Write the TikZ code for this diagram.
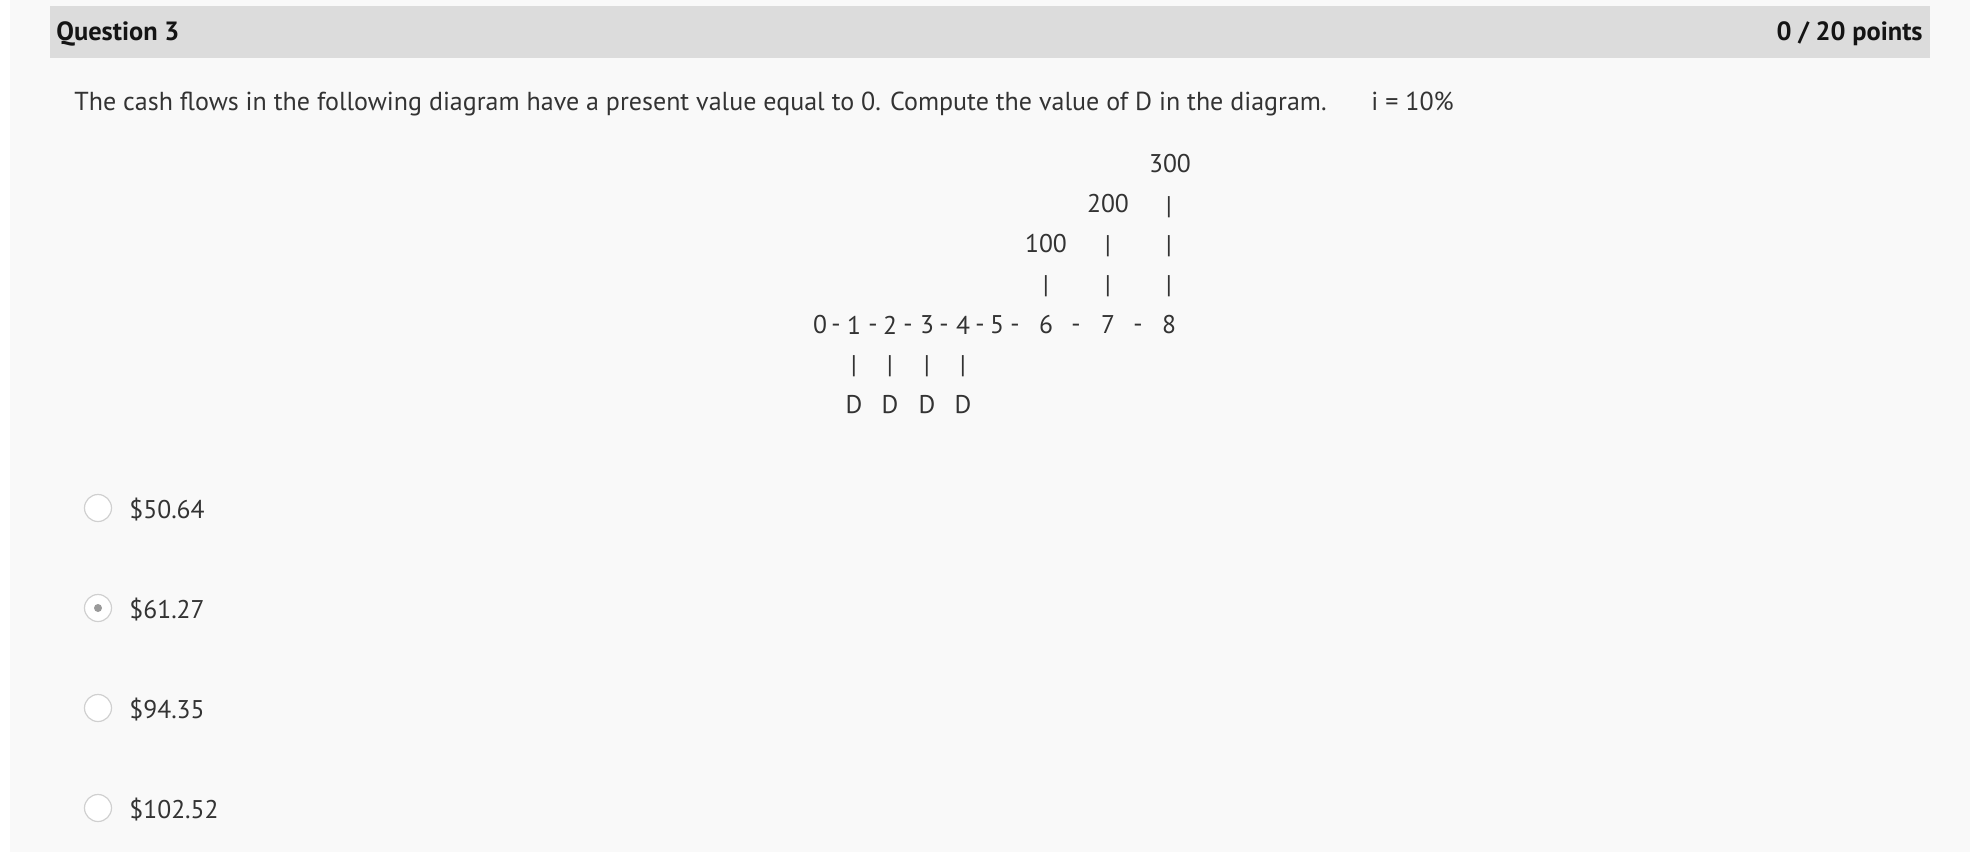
\documentclass[tikz,border=0pt]{standalone}
\usepackage{fontspec}
\setmainfont{PT Sans}
\definecolor{panelgray}{HTML}{F9F9F9}
\definecolor{bargray}{HTML}{DCDCDC}
\definecolor{inkgray}{HTML}{333333}
\definecolor{radioedge}{HTML}{D0D0D0}
\definecolor{radiodot}{HTML}{9A9A9A}
\tikzset{
	txt/.style={text=inkgray, inner sep=0pt, font=\fontsize{12.8}{15}\selectfont},
	bigtxt/.style={txt, font=\fontsize{13}{15}\selectfont},
	headtxt/.style={text=black!92, inner sep=0pt, font=\fontsize{13.2}{16}\selectfont\bfseries},
	radio/.style={circle, draw=radioedge, fill=white, line width=0.6pt, minimum size=13.5pt, inner sep=0pt},
}

\begin{document}
\begin{tikzpicture}[x=0.5pt, y=-0.5pt]
			%%%%% START %%%%%
			\useasboundingbox (0, 0) rectangle (1988, 852);
			\fill[white] (0, 0) rectangle (1988, 852);
			\fill[panelgray] (10, 0) rectangle (1970, 852);
			\fill[bargray] (50, 6) rectangle (1930, 58);
			
			\node[headtxt, anchor=base west] (title) at (56, 40) {Question 3};
			\node[headtxt, anchor=base east] (score) at (1923, 40) {0 / 20 points};
			
			\node[bigtxt, anchor=base west] (question) at (74, 110) {The cash flows in the following diagram have a present value equal to 0. Compute the value of D in the diagram.};
			\node[bigtxt, anchor=base west] (rate) at (1371, 110) {i = 10\%};
			
			% amounts above the line
			\node[txt] (a300) at (1170, 164) {300};
			\node[txt] (a200) at (1108, 204) {200};
			\node[txt] (a100) at (1046, 244) {100};
			
			\node[txt] (up8a) at (1169, 207) {|};
			\node[txt] (up7a) at (1108, 246) {|};
			\node[txt] (up8b) at (1169, 246) {|};
			\node[txt] (up6a) at (1046, 286) {|};
			\node[txt] (up7b) at (1108, 286) {|};
			\node[txt] (up8c) at (1169, 286) {|};
			
			% time line
			\node[txt] (t0) at (820, 325) {0};
			\node[txt] (d01) at (836, 328) {-};
			\node[txt] (t1) at (854, 325) {1};
			\node[txt] (d12) at (873, 328) {-};
			\node[txt] (t2) at (890, 325) {2};
			\node[txt] (d23) at (908, 328) {-};
			\node[txt] (t3) at (927, 325) {3};
			\node[txt] (d34) at (944, 328) {-};
			\node[txt] (t4) at (963, 325) {4};
			\node[txt] (d45) at (980, 328) {-};
			\node[txt] (t5) at (997, 325) {5};
			\node[txt] (d56) at (1015, 328) {-};
			\node[txt] (t6) at (1046, 325) {6};
			\node[txt] (d67) at (1076, 328) {-};
			\node[txt] (t7) at (1108, 325) {7};
			\node[txt] (d78) at (1138, 328) {-};
			\node[txt] (t8) at (1169, 325) {8};
			
			% payments below the line
			\node[txt] (dn1) at (854, 366) {|};
			\node[txt] (dn2) at (890, 366) {|};
			\node[txt] (dn3) at (927, 366) {|};
			\node[txt] (dn4) at (963, 366) {|};
			\node[txt] (D1) at (854, 405) {D};
			\node[txt] (D2) at (890, 405) {D};
			\node[txt] (D3) at (927, 405) {D};
			\node[txt] (D4) at (963, 405) {D};
			
			% answer choices
			\node[radio] (opt1) at (98, 508) {};
			\node[radio] (opt2) at (98, 608) {};
			\node[radio] (opt3) at (98, 708) {};
			\node[radio] (opt4) at (98, 808) {};
			\node[circle, fill=radiodot, inner sep=0pt, minimum size=4pt] (opt2dot) at (opt2) {};
			
			\node[txt, anchor=base west] (ans1) at (129, 518) {\$50.64};
			\node[txt, anchor=base west] (ans2) at (129, 618) {\$61.27};
			\node[txt, anchor=base west] (ans3) at (129, 718) {\$94.35};
			\node[txt, anchor=base west] (ans4) at (129, 818) {\$102.52};
			
			%%%%% END %%%%%
\end{tikzpicture}
\end{document}
